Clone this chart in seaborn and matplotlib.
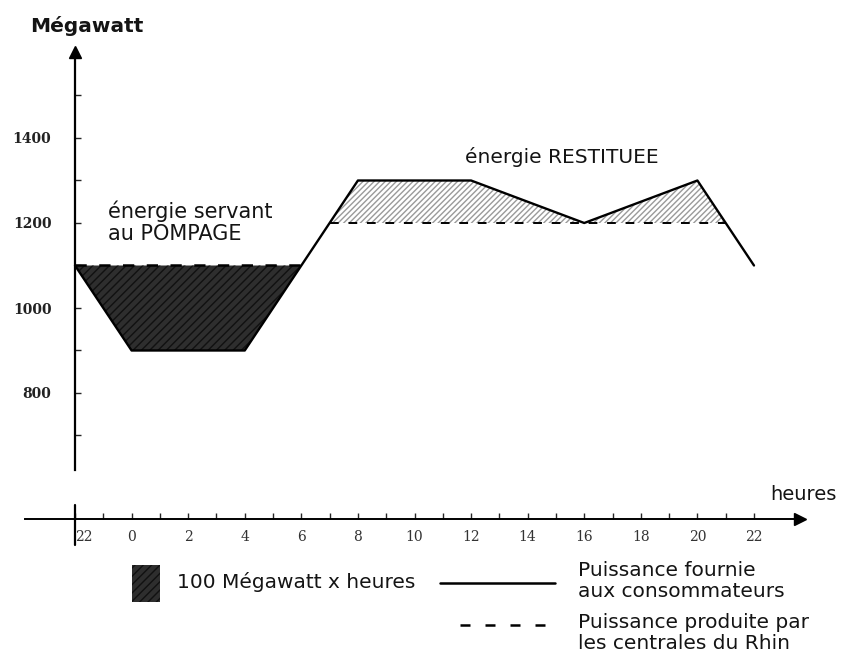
import numpy as np
import matplotlib
matplotlib.use("Agg")
import matplotlib.pyplot as plt
import seaborn as sns
from matplotlib.patches import Rectangle
from matplotlib.lines import Line2D

# ---- data ----
hours_conso = np.array([-2, 0, 4, 6, 8, 12, 16, 20, 22])
mw_conso = np.array([1100, 900, 900, 1100, 1300, 1300, 1200, 1300, 1100])
prod_night_hours = [-2, 6]
prod_night_mw = [1100, 1100]
prod_day_hours = [7, 21]
prod_day_mw = [1200, 1200]
x_ticks = list(range(-2, 23))
x_tick_labels = ["22" if h == -2 else (str(h) if h % 2 == 0 else "") for h in x_ticks]
y_ticks = list(range(700, 1600, 100))
y_tick_labels = [str(v) if v in (800, 1000, 1200, 1400) else "" for v in y_ticks]

sns.set_style("white")
plt.rcParams['font.family'] = ['DejaVu Sans']

W, H = 854, 655
fig = plt.figure(figsize=(W / 100, H / 100), dpi=100)

# axes placement in pixels
left_px, right_px, top_px, bottom_px = 20, 850, 40, 519
ax = fig.add_axes([left_px / W, 1 - bottom_px / H, (right_px - left_px) / W, (bottom_px - top_px) / H])

ppx = (754 - 75) / 24.0     # px per hour
ppy = (393 - 138) / 600.0   # px per MW
x0 = -2 - (75 - left_px) / ppx
x1 = -2 + (right_px - 75) / ppx
y0 = 800 - (bottom_px - 393) / ppy
y1 = 1400 + (138 - top_px) / ppy
ax.set_xlim(x0, x1)
ax.set_ylim(y0, y1)

# fills
ax.fill_between(hours_conso, mw_conso, 1100,
                where=(hours_conso <= 6), interpolate=True,
                facecolor="#2e2e2e", edgecolor="#111111", hatch="////", linewidth=0)
ax.fill_between(hours_conso, mw_conso, 1200,
                where=(mw_conso >= 1200), interpolate=True,
                facecolor="white", edgecolor="#9a9a9a", hatch="//////", linewidth=0)

# lines
sns.lineplot(x=hours_conso, y=mw_conso, ax=ax, color="black", linewidth=1.7)
ax.plot(prod_night_hours, prod_night_mw, color="black", linewidth=1.8, dashes=(4.5, 5))
ax.plot(prod_day_hours, prod_day_mw, color="black", linewidth=1.4, dashes=(4.5, 5))

# spines
for s in ["top", "right"]:
    ax.spines[s].set_visible(False)
ax.spines["left"].set_position(("data", -2))
y_top_axis = 1400 + (138 - 52) / ppy
y_bot_axis = 800 - (470 - 393) / ppy
ax.spines["left"].set_bounds(y_bot_axis, y_top_axis)
ax.spines["left"].set_linewidth(1.6)
x_left_axis = -2 - (75 - 25) / ppx
x_right_axis = -2 + (800 - 75) / ppx
ax.spines["bottom"].set_bounds(x_left_axis, x_right_axis)
ax.spines["bottom"].set_linewidth(1.4)
for s in ["left", "bottom"]:
    ax.spines[s].set_color("black")

# arrows
ax.plot([-2], [y_top_axis], marker="^", color="black", markersize=8, clip_on=False)
ax.plot([x_right_axis], [y0], marker=">", color="black", markersize=8, clip_on=False)

# separator at 22h
ax.plot([-2, -2], [y0 + 14 / ppy, y0 - 26 / ppy], color="black", linewidth=1.6, clip_on=False)

# ticks
ax.set_xticks(x_ticks)
ax.set_xticklabels(x_tick_labels, fontsize=10, family="DejaVu Serif", color="#333333")
ax.tick_params(axis="x", direction="in", length=4, width=1, pad=8, bottom=True)
ax.get_xticklabels()[0].set_horizontalalignment("left")
ax.set_yticks(y_ticks)
ax.set_yticklabels(y_tick_labels, fontsize=10, family="DejaVu Serif", fontweight="bold", color="#222222")
ax.tick_params(axis="y", direction="in", length=4, width=1, pad=17, left=True)
ax.grid(False)


def fx(px):
    return px / W


def fy(py):
    return 1 - py / H


TXT = "#141414"
# axis titles
fig.text(fx(30), fy(26), "Mégawatt", fontsize=14.5, fontweight="bold", va="center", ha="left", color=TXT)
fig.text(fx(770), fy(494), "heures", fontsize=14, va="center", ha="left", color=TXT)

# annotations
fig.text(fx(108), fy(222), "énergie servant\nau POMPAGE", fontsize=15, va="center", ha="left",
         linespacing=1.12, color=TXT)
fig.text(fx(465), fy(157), "énergie RESTITUEE", fontsize=14.5, va="center", ha="left", color=TXT)

# legend
fig.add_artist(Rectangle((fx(132), fy(602)), fx(28), (602 - 565) / H, transform=fig.transFigure,
                         facecolor="#2e2e2e", edgecolor="#111111", hatch="////", linewidth=0))
fig.text(fx(177), fy(582), "100 Mégawatt x heures", fontsize=14.5, va="center", ha="left", color=TXT)
fig.add_artist(Line2D([fx(440), fx(555)], [fy(583), fy(583)], transform=fig.transFigure,
                      color="black", linewidth=1.8))
fig.text(fx(578), fy(581), "Puissance fournie\naux consommateurs", fontsize=14.5, va="center", ha="left",
         linespacing=1.12, color=TXT)
fig.add_artist(Line2D([fx(460), fx(555)], [fy(625), fy(625)], transform=fig.transFigure,
                      color="black", linewidth=1.8, dashes=(4, 6)))
fig.text(fx(578), fy(633), "Puissance produite par\nles centrales du Rhin", fontsize=14.5, va="center",
         ha="left", linespacing=1.12, color=TXT)

fig.savefig("out.png", dpi=100)
